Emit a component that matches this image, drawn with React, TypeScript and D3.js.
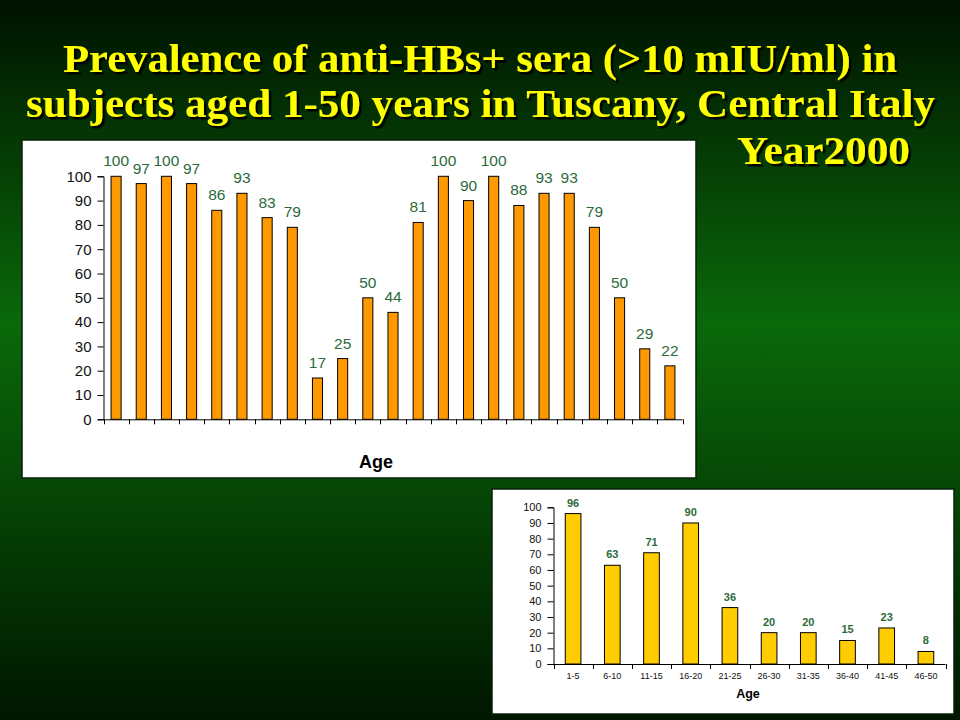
import React, { useEffect, useRef } from "react";
import * as d3 from "d3";

// chart 1: single years of age (23 bars, no tick labels shown)
const ageYears = d3.range(1, 24).map(String);
const prevYears = [100, 97, 100, 97, 86, 93, 83, 79, 17, 25, 50, 44, 81, 100, 90, 100, 88, 93, 93, 79, 50, 29, 22];

// chart 2: five-year age groups
const ageGroups = ["1-5", "6-10", "11-15", "16-20", "21-25", "26-30", "31-35", "36-40", "41-45", "46-50"];
const prevGroups = [96, 63, 71, 90, 36, 20, 20, 15, 23, 8];

const yTicks = d3.range(0, 101, 10);

const titleLines = [
  "Prevalence of anti-HBs+ sera (>10 mIU/ml) in",
  "subjects aged 1-50 years in  Tuscany, Central Italy",
  "Year2000",
];

function drawBarChart(svg, opts) {
  const {
    box, // [x, y, w, h] of the white panel
    x0, x1, yTop, yBottom,
    cats, values, fill,
    tickFont, labelFont, labelWeight, labelGap,
    xLabelFont, ageFont, ageX, ageY, showXLabels,
  } = opts;

  svg.append("rect")
    .attr("x", box[0]).attr("y", box[1])
    .attr("width", box[2]).attr("height", box[3])
    .attr("fill", "#ffffff")
    .attr("stroke", "#0a1f0a")
    .attr("stroke-width", 1.5);

  const x = d3.scaleBand(cats, [x0, x1]).paddingInner(0.6).paddingOuter(0.3);
  const y = d3.scaleLinear([0, 100], [yBottom, yTop]);

  // y axis
  const yAxis = d3.axisLeft(y).tickValues(yTicks).tickSize(6).tickPadding(6);
  svg.append("g")
    .attr("transform", `translate(${x0},0)`)
    .call(yAxis)
    .call((g) => g.selectAll("line, path").attr("stroke", "#000"))
    .call((g) => g.selectAll("text")
      .attr("font-family", "Liberation Sans, Arial, sans-serif")
      .attr("font-size", tickFont)
      .attr("fill", "#111"));

  // x axis line + boundary ticks
  const step = x.step();
  const gx = svg.append("g").attr("stroke", "#000").attr("stroke-width", 1);
  gx.append("line")
    .attr("x1", x0).attr("x2", x1)
    .attr("y1", yBottom + 0.5).attr("y2", yBottom + 0.5);
  gx.selectAll("line.tk")
    .data(d3.range(cats.length + 1))
    .join("line")
    .attr("class", "tk")
    .attr("x1", (i) => Math.round(x0 + i * step) + 0.5)
    .attr("x2", (i) => Math.round(x0 + i * step) + 0.5)
    .attr("y1", yBottom)
    .attr("y2", yBottom + 5);

  // bars
  svg.append("g")
    .selectAll("rect")
    .data(values)
    .join("rect")
    .attr("x", (d, i) => x(cats[i]))
    .attr("y", (d) => y(d))
    .attr("width", x.bandwidth())
    .attr("height", (d) => y(0) - y(d))
    .attr("fill", fill)
    .attr("stroke", "#000")
    .attr("stroke-width", 1);

  // value labels
  svg.append("g")
    .selectAll("text")
    .data(values)
    .join("text")
    .attr("x", (d, i) => x(cats[i]) + x.bandwidth() / 2)
    .attr("y", (d) => y(d) - labelGap)
    .attr("text-anchor", "middle")
    .attr("font-family", "Liberation Sans, Arial, sans-serif")
    .attr("font-size", labelFont)
    .attr("font-weight", labelWeight)
    .attr("fill", "#2c6a3a")
    .text((d) => d);

  if (showXLabels) {
    svg.append("g")
      .selectAll("text")
      .data(cats)
      .join("text")
      .attr("x", (d) => x(d) + x.bandwidth() / 2)
      .attr("y", yBottom + 15)
      .attr("text-anchor", "middle")
      .attr("font-family", "Liberation Sans, Arial, sans-serif")
      .attr("font-size", xLabelFont)
      .attr("fill", "#111")
      .text((d) => d);
  }

  svg.append("text")
    .attr("x", ageX)
    .attr("y", ageY)
    .attr("text-anchor", "middle")
    .attr("font-family", "Liberation Sans, Arial, sans-serif")
    .attr("font-size", ageFont)
    .attr("font-weight", "bold")
    .attr("fill", "#000")
    .text("Age");
}

export default function App() {
  const ref = useRef(null);

  useEffect(() => {
    if (!ref.current) return;
    const width = 960;
    const height = 720;
    const svg = d3.select(ref.current);
    svg.selectAll("*").remove();

    const defs = svg.append("defs");
    const grad = defs.append("linearGradient")
      .attr("id", "bg").attr("x1", 0).attr("y1", 0).attr("x2", 0).attr("y2", 1);
    grad.append("stop").attr("offset", "0%").attr("stop-color", "#001200");
    grad.append("stop").attr("offset", "45%").attr("stop-color", "#0a690a");
    grad.append("stop").attr("offset", "100%").attr("stop-color", "#001600");

    defs.append("filter")
      .attr("id", "shadow")
      .attr("x", "-5%").attr("y", "-20%").attr("width", "110%").attr("height", "140%")
      .append("feDropShadow")
      .attr("dx", 2.5).attr("dy", 2.5).attr("stdDeviation", 0.6)
      .attr("flood-color", "#000").attr("flood-opacity", 1);

    svg.append("rect")
      .attr("width", width).attr("height", height)
      .attr("fill", "url(#bg)");

    // title (yellow with dark drop shadow)
    const titlePos = [
      { x: 63, y: 72, len: 834 },
      { x: 26, y: 117, len: 909 },
      { x: 737, y: 164, len: 173 },
    ];
    svg.append("g")
      .attr("font-family", "Liberation Serif, Times New Roman, serif")
      .attr("font-weight", "bold")
      .attr("font-size", 40)
      .attr("filter", "url(#shadow)")
      .selectAll("text")
      .data(titleLines)
      .join("text")
      .attr("x", (d, i) => titlePos[i].x)
      .attr("y", (d, i) => titlePos[i].y)
      .attr("textLength", (d, i) => titlePos[i].len)
      .attr("lengthAdjust", "spacingAndGlyphs")
      .attr("fill", "#ffff00")
      .text((d) => d);

    drawBarChart(svg, {
      box: [22, 140, 674, 338],
      x0: 103.5, x1: 682.5, yTop: 176.3, yBottom: 419.3,
      cats: ageYears, values: prevYears, fill: "#ff9900",
      tickFont: 15, labelFont: 15.5, labelWeight: "normal", labelGap: 10,
      xLabelFont: 10, ageFont: 18, ageX: 376, ageY: 468, showXLabels: false,
    });

    drawBarChart(svg, {
      box: [492, 489, 462, 225],
      x0: 553.5, x1: 945.5, yTop: 507.3, yBottom: 664,
      cats: ageGroups, values: prevGroups, fill: "#ffcc00",
      tickFont: 11, labelFont: 11, labelWeight: "bold", labelGap: 7,
      xLabelFont: 9, ageFont: 12.5, ageX: 748, ageY: 698, showXLabels: true,
    });
  }, []);

  return (
    <div style={{ position: "absolute", left: 0, top: 0 }}>
      <svg ref={ref} width={960} height={720} style={{ display: "block" }} />
    </div>
  );
}
